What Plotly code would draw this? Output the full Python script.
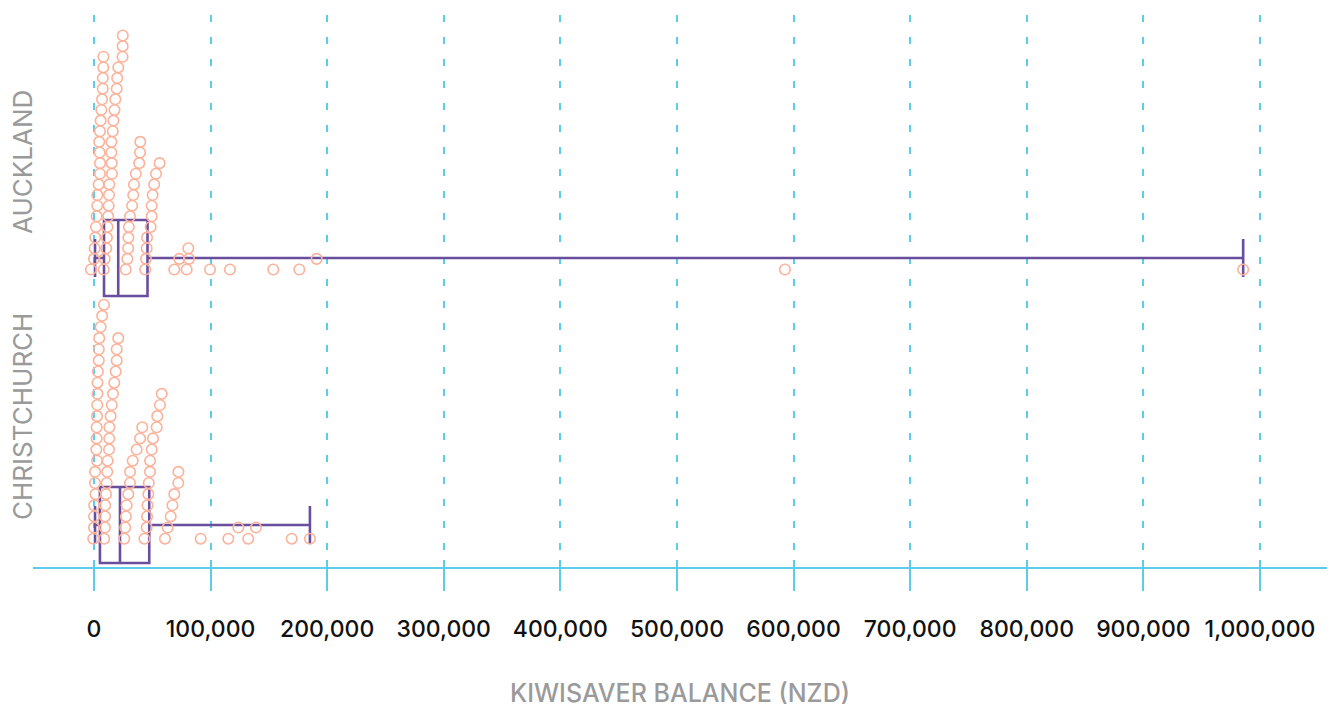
import plotly.graph_objects as go

# ---------------- data ----------------
cities = ["AUCKLAND", "CHRISTCHURCH"]

# KiwiSaver balances (NZD), listed stack by stack (bottom to top of each stack)
auckland_balances = [
    -2600, 0, 600, 1100, 1700, 2300, 2800, 2900, 4000, 5100, 5200, 4900, 4500,
    5100, 5700, 6300, 6900, 7500, 7600, 8000, 8100,
    8300, 9200, 10500, 11100, 11600, 12200, 12600, 12900, 13100, 15400, 15200,
    14900, 14900, 16100, 16700, 17600, 18300, 19500, 19900, 20800, 24500, 24600, 24700,
    27200, 28600, 29300, 29500, 29900, 30900, 32700, 33700, 34300, 35900, 38800, 39500, 39700,
    43900, 44600, 45200, 45500, 48600, 49500, 49500, 50300, 51600, 53200, 56300,
    68900, 73200,
    79500, 81500, 80900,
    99500,
    116600,
    153800,
    176100, 191000,
    592600,
    985600,
]
auckland_stack_sizes = [21, 23, 13, 11, 2, 3, 1, 1, 1, 2, 1, 1]

christchurch_balances = [
    -600, 0, 100, 200, 1300, 900, 900, 2600, 2000, 2300, 2300, 2600, 2800, 3000,
    3000, 3400, 4100, 4100, 4500, 5700, 7000, 8600,
    8800, 9400, 9500, 9600, 10300, 10900, 11400, 11700, 12900, 13100, 13200,
    14300, 15300, 16300, 17400, 18600, 19500, 19500, 20800,
    26000, 26800, 27400, 28000, 29400, 30900, 30900, 33200, 36600, 39500, 41400,
    43300, 45200, 45500, 45900, 46600, 47000, 48000, 48100, 49500, 50600, 53800,
    54300, 56600, 58100,
    60900, 63200, 65800, 67300, 68900, 72300, 72400,
    91500,
    115200, 123800,
    132300, 138900,
    169600,
    185200,
]
christchurch_stack_sizes = [22, 19, 11, 14, 7, 1, 2, 2, 1, 1]

# box-plot statistics (Auckland, Christchurch)
box_lowerfence = [900, 900]
box_q1 = [8600, 5100]
box_median = [20800, 22300]
box_q3 = [45900, 47400]
box_upperfence = [985600, 185200]

tick_values = [0, 100000, 200000, 300000, 400000, 500000, 600000, 700000, 800000, 900000, 1000000]
tick_labels = ["0", "100,000", "200,000", "300,000", "400,000", "500,000",
               "600,000", "700,000", "800,000", "900,000", "1,000,000"]
x_title = "KIWISAVER BALANCE (NZD)"

# ---------------- layout constants (pixel-like y units) ----------------
W, H = 1338, 707
PLOT_TOP, PLOT_BOTTOM = 15, 567
PLOT_LEFT, PLOT_RIGHT = 33, 1327
X_RANGE = [-52300, 1057500]
BASELINE = [269.5, 538.7]      # bottom row of each city's dots
BOX_CENTER = [258, 525]
BOX_HEIGHT = 76
STACK_SPAN = 234               # height from bottom to top dot of the tallest stack
LABEL_Y = [162, 417]

DOT_COLOR = "#FBB29A"
BOX_COLOR = "#6A4E9E"
GRID_COLOR = "#5CCCEB"
FONT = "Inter"


def stack_rows(sizes):
    rows = []
    for n in sizes:
        rows.extend(range(n))
    return rows


fig = go.Figure()

for i, (vals, sizes) in enumerate([(auckland_balances, auckland_stack_sizes),
                                   (christchurch_balances, christchurch_stack_sizes)]):
    rows = stack_rows(sizes)
    step = STACK_SPAN / (max(sizes) - 1)
    ys = [BASELINE[i] - r * step for r in rows]
    fig.add_trace(go.Scatter(
        x=vals, y=ys, mode="markers",
        marker=dict(symbol="circle-open", size=10.5, color=DOT_COLOR,
                    line=dict(width=1.6, color=DOT_COLOR)),
        hoverinfo="x", showlegend=False, name=cities[i],
    ))

for i in range(2):
    fig.add_trace(go.Box(
        y=[BOX_CENTER[i]], q1=[box_q1[i]], median=[box_median[i]], q3=[box_q3[i]],
        lowerfence=[box_lowerfence[i]], upperfence=[box_upperfence[i]],
        orientation="h", width=BOX_HEIGHT, whiskerwidth=0.5,
        boxpoints=False, fillcolor="rgba(0,0,0,0)",
        line=dict(color=BOX_COLOR, width=2.6), showlegend=False, name=cities[i],
    ))

# invisible trace for the overlay axis that draws the short upper tick marks
fig.add_trace(go.Scatter(x=[0], y=[PLOT_BOTTOM], xaxis="x2", mode="markers",
                         marker=dict(opacity=0), hoverinfo="skip", showlegend=False))

fig.update_layout(
    width=W, height=H,
    margin=dict(l=PLOT_LEFT, r=W - PLOT_RIGHT, t=PLOT_TOP, b=H - PLOT_BOTTOM),
    paper_bgcolor="white", plot_bgcolor="white",
    font=dict(family=FONT),
    xaxis=dict(
        range=X_RANGE, tickmode="array", tickvals=tick_values, ticktext=tick_labels,
        showgrid=True, gridcolor=GRID_COLOR, gridwidth=1.6, griddash="7px,15px",
        zeroline=False, showline=True, linecolor=GRID_COLOR, linewidth=2,
        ticks="outside", ticklen=22, tickwidth=1.6, tickcolor=GRID_COLOR,
        ticklabelstandoff=18,
        tickfont=dict(family=FONT, size=23, color="#111111", weight=500),
    ),
    xaxis2=dict(
        range=X_RANGE, overlaying="x", anchor="y", side="bottom",
        tickmode="array", tickvals=tick_values, showticklabels=False,
        showgrid=False, zeroline=False, showline=False,
        ticks="inside", ticklen=7, tickwidth=1.6, tickcolor=GRID_COLOR,
    ),
    yaxis=dict(range=[PLOT_BOTTOM, PLOT_TOP], visible=False, showgrid=False, zeroline=False),
)

for i, city in enumerate(cities):
    fig.add_annotation(
        text=city, textangle=-90, xref="paper", yref="y",
        x=(22 - PLOT_LEFT) / (PLOT_RIGHT - PLOT_LEFT), y=LABEL_Y[i],
        xanchor="center", yanchor="middle", showarrow=False,
        font=dict(family=FONT, size=26, color="#9A9A9A"),
    )

fig.add_annotation(
    text=x_title, xref="paper", yref="paper",
    x=0.5, y=(PLOT_BOTTOM - 693) / (PLOT_BOTTOM - PLOT_TOP),
    xanchor="center", yanchor="middle", showarrow=False,
    font=dict(family=FONT, size=25, color="#9A9A9A", weight=500),
)

fig.write_html("out.html", config={"displayModeBar": False},
               post_script="document.body.style.margin='0';")
